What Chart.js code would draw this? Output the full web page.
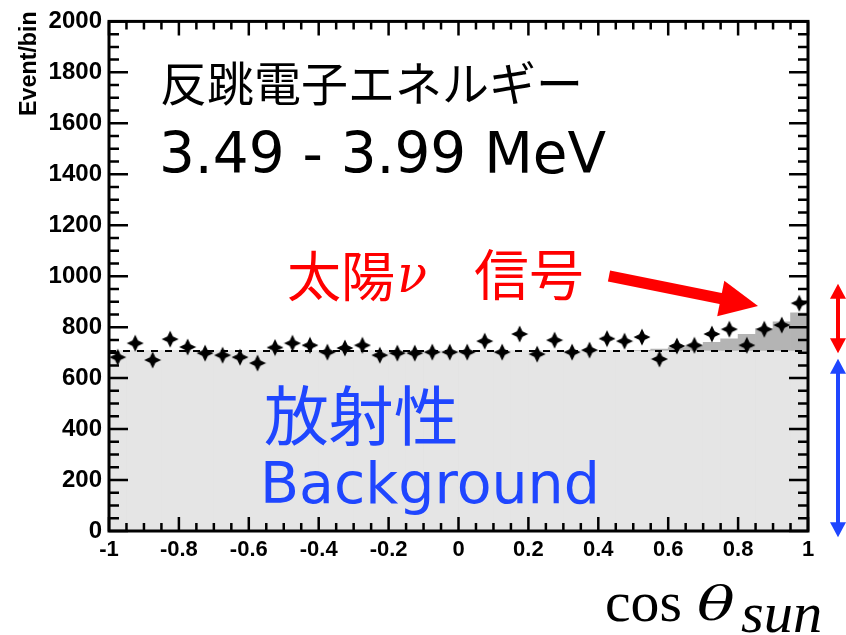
<!DOCTYPE html>
<html>
<head>
<meta charset="utf-8">
<script src="https://cdn.jsdelivr.net/npm/chart.js@4.4.1/dist/chart.umd.min.js"></script>
<style>
    html, body { margin: 0; padding: 0; background: #fff; }
    #wrap { width: 846px; height: 635px; position: relative; }
</style>
</head>
<body>
<div id="wrap"><canvas id="chartJS"></canvas></div>
<script>
// bin centres of cos(theta_sun), 40 bins of 0.05
const cosBins = [-0.975, -0.925, -0.875, -0.825, -0.775, -0.725, -0.675, -0.625, -0.575, -0.525,
    -0.475, -0.425, -0.375, -0.325, -0.275, -0.225, -0.175, -0.125, -0.075, -0.025,
    0.025, 0.075, 0.125, 0.175, 0.225, 0.275, 0.325, 0.375, 0.425, 0.475,
    0.525, 0.575, 0.625, 0.675, 0.725, 0.775, 0.825, 0.875, 0.925, 0.975];

// measured events per bin
const dataCounts = [682, 737, 671, 753, 722, 698, 690, 682, 659, 720,
    737, 729, 702, 718, 729, 690, 698, 698, 702, 702,
    702, 745, 702, 773, 694, 749, 702, 710, 755, 745,
    761, 675, 726, 729, 773, 792, 729, 792, 808, 894];

// radioactive background per bin
const bgCounts = [706, 706, 706, 706, 706, 706, 706, 706, 706, 706,
    706, 706, 706, 706, 706, 706, 706, 706, 706, 706,
    706, 706, 706, 706, 706, 706, 706, 706, 706, 706,
    706, 706, 706, 706, 706, 706, 706, 706, 706, 706];

// solar neutrino signal on top of background
const sigCounts = [0, 0, 0, 0, 0, 0, 0, 0, 0, 0,
    0, 0, 0, 0, 0, 0, 0, 0, 0, 0,
    0, 0, 0, 0, 0, 0, 0, 0, 0, 0,
    3, 8, 14, 22, 34, 48, 66, 88, 115, 150];

const xTickStep = 0.2;
const yTickStep = 200;

// 4-pointed star marker
const star = document.createElement('canvas');
star.width = 18;
star.height = 18;
(() => {
    const sc = star.getContext('2d');
    sc.fillStyle = '#000';
    sc.beginPath();
    for (let i = 0; i < 8; i++) {
        const a = i * Math.PI / 4;
        const r = i % 2 === 0 ? 8.5 : 3.9;
        sc.lineTo(9 + r * Math.cos(a), 9 + r * Math.sin(a));
    }
    sc.closePath();
    sc.fill();
})();

// draw text so its ink box starts at left/top; sized by ink width and/or height
const inkText = (ctx, str, font, left, top, width, height) => {
    ctx.font = font(100);
    let m = ctx.measureText(str);
    const size = height
        ? 100 * height / (m.actualBoundingBoxAscent + m.actualBoundingBoxDescent)
        : 100 * width / (m.actualBoundingBoxLeft + m.actualBoundingBoxRight);
    ctx.font = font(size.toFixed(2));
    m = ctx.measureText(str);
    const inkW = m.actualBoundingBoxLeft + m.actualBoundingBoxRight;
    const sx = (width && height) ? width / inkW : 1;
    ctx.save();
    ctx.translate(left, top + m.actualBoundingBoxAscent);
    ctx.scale(sx, 1);
    ctx.textAlign = 'left';
    ctx.textBaseline = 'alphabetic';
    ctx.fillText(str, m.actualBoundingBoxLeft, 0);
    ctx.restore();
};

const arrowHead = (ctx, x0, y0, x1, y1, len, half) => {
    const ang = Math.atan2(y1 - y0, x1 - x0);
    const bx = x1 - len * Math.cos(ang), by = y1 - len * Math.sin(ang);
    ctx.beginPath();
    ctx.moveTo(x1, y1);
    ctx.lineTo(bx + half * Math.sin(ang), by - half * Math.cos(ang));
    ctx.lineTo(bx - half * Math.sin(ang), by + half * Math.cos(ang));
    ctx.closePath();
    ctx.fill();
};

// ROOT style frame with inner ticks on all four sides
const framePlugin = {
    id: 'frame',
    afterDatasetsDraw(chart) {
        const {ctx, chartArea: a, scales: {x, y}} = chart;
        ctx.save();
        ctx.strokeStyle = '#000';
        ctx.lineWidth = 2.5;
        ctx.beginPath();
        for (let i = 0; i <= 40; i++) {
            const v = -1 + i * 0.05;
            const px = x.getPixelForValue(v);
            const len = i % 4 === 0 ? 14 : 8;
            ctx.moveTo(px, a.bottom); ctx.lineTo(px, a.bottom - len);
            ctx.moveTo(px, a.top); ctx.lineTo(px, a.top + len);
        }
        for (let v = 0; v <= 2000; v += 50) {
            const py = y.getPixelForValue(v);
            const len = v % yTickStep === 0 ? 19 : 10;
            ctx.moveTo(a.left, py); ctx.lineTo(a.left + len, py);
            ctx.moveTo(a.right, py); ctx.lineTo(a.right - len, py);
        }
        ctx.stroke();
        ctx.lineWidth = 3;
        ctx.strokeRect(a.left, a.top, a.right - a.left, a.bottom - a.top);
        ctx.restore();
    }
};

// annotation texts and arrows
const notesPlugin = {
    id: 'notes',
    afterDraw(chart) {
        const {ctx, scales: {y}} = chart;
        const blue = '#1f46ff', red = '#ff0000';
        ctx.save();

        // y axis title
        ctx.save();
        ctx.fillStyle = '#000';
        ctx.font = 'bold 100px "Liberation Sans"';
        let m = ctx.measureText('Event/bin');
        const s = 100 * 102 / (m.actualBoundingBoxLeft + m.actualBoundingBoxRight);
        ctx.font = 'bold ' + s.toFixed(2) + 'px "Liberation Sans"';
        m = ctx.measureText('Event/bin');
        ctx.translate(18 + m.actualBoundingBoxAscent, 115 - m.actualBoundingBoxLeft);
        ctx.rotate(-Math.PI / 2);
        ctx.textAlign = 'left';
        ctx.textBaseline = 'alphabetic';
        ctx.fillText('Event/bin', 0, 0);
        ctx.restore();

        ctx.fillStyle = '#000';
        inkText(ctx, '反跳電子エネルギー', s => s + 'px "Noto Sans CJK JP"', 162, 61, 416);
        inkText(ctx, '3.49 - 3.99 MeV', s => s + 'px "DejaVu Sans"', 163, 130, 443);

        ctx.fillStyle = red;
        inkText(ctx, '太陽', s => s + 'px "Noto Sans CJK JP"', 288, 250, 105);
        inkText(ctx, 'ν', s => 'italic ' + s + 'px "DejaVu Serif"', 400, 265, 26, 28);
        inkText(ctx, '信号', s => s + 'px "Noto Sans CJK JP"', 475, 249, 106);

        ctx.fillStyle = blue;
        inkText(ctx, '放射性', s => s + 'px "Noto Sans CJK JP"', 265, 385, 190);
        inkText(ctx, 'Background', s => s + 'px "DejaVu Sans"', 265, 460, 330);

        ctx.fillStyle = '#000';
        inkText(ctx, 'cos', s => s + 'px "Liberation Serif"', 607, 594, 73, 27);
        inkText(ctx, 'θ', s => 'italic ' + s + 'px "DejaVu Serif"', 697, 584, 37, 37);
        inkText(ctx, 'sun', s => 'italic ' + s + 'px "Liberation Serif"', 741, 605, 79, 27);

        // red arrow towards the signal excess
        ctx.strokeStyle = red;
        ctx.fillStyle = red;
        ctx.lineWidth = 11;
        ctx.beginPath();
        ctx.moveTo(609, 276);
        ctx.lineTo(728, 300);
        ctx.stroke();
        arrowHead(ctx, 609, 276, 758, 306, 38, 18);

        // vertical double arrows beside the frame
        const ax = 838;
        const drawDouble = (col, v0, v1) => {
            const yA = y.getPixelForValue(v0), yB = y.getPixelForValue(v1);
            ctx.strokeStyle = col;
            ctx.fillStyle = col;
            ctx.lineWidth = 4;
            ctx.beginPath();
            ctx.moveTo(ax, yA - 10);
            ctx.lineTo(ax, yB + 10);
            ctx.stroke();
            arrowHead(ctx, ax, yB, ax, yA, 15, 8);
            arrowHead(ctx, ax, yA, ax, yB, 15, 8);
        };
        drawDouble(red, 698, 970);
        drawDouble(blue, -25, 676);
        ctx.restore();
    }
};

const tickFont = {family: 'Liberation Sans', weight: 'bold', size: 22};

const ctx = document.getElementById('chartJS').getContext('2d');
const chart = new Chart(ctx, {
    data: {
        datasets: [{
            type: 'bar',
            label: 'signal + background',
            data: cosBins.map((c, i) => ({x: c, y: bgCounts[i] + sigCounts[i]})),
            backgroundColor: '#b4b4b4',
            barPercentage: 1,
            categoryPercentage: 1,
            grouped: false,
            order: 4
        }, {
            type: 'bar',
            label: 'background',
            data: cosBins.map((c, i) => ({x: c, y: bgCounts[i]})),
            backgroundColor: '#e5e5e5',
            barPercentage: 1,
            categoryPercentage: 1,
            grouped: false,
            order: 3
        }, {
            type: 'line',
            label: 'background line',
            data: [{x: -1, y: bgCounts[0]}]
                .concat(cosBins.map((c, i) => ({x: c, y: bgCounts[i]})))
                .concat([{x: 1, y: bgCounts[bgCounts.length - 1]}]),
            stepped: 'middle',
            borderColor: '#000',
            borderWidth: 2,
            borderDash: [7, 7],
            pointRadius: 0,
            order: 2
        }, {
            type: 'scatter',
            label: 'data',
            data: cosBins.map((c, i) => ({x: c, y: dataCounts[i]})),
            pointStyle: star,
            pointRadius: 9,
            order: 1
        }]
    },
    options: {
        responsive: true,
        maintainAspectRatio: false,
        animation: false,
        layout: {padding: {top: 20, right: 38, left: 0, bottom: 0}},
        plugins: {
            legend: {display: false},
            tooltip: {enabled: false}
        },
        scales: {
            x: {
                type: 'linear',
                min: -1,
                max: 1,
                offset: false,
                grid: {display: false, drawTicks: false, offset: false},
                border: {display: false},
                ticks: {
                    stepSize: xTickStep,
                    color: '#000',
                    font: tickFont,
                    padding: 6,
                    maxRotation: 0,
                    autoSkip: false,
                    callback: (v) => String(Math.round(v * 10) / 10)
                },
                afterFit: (scale) => { scale.height = 104; }
            },
            y: {
                min: 0,
                max: 2000,
                grid: {display: false, drawTicks: false},
                border: {display: false},
                ticks: {
                    stepSize: yTickStep,
                    color: '#000',
                    font: {family: 'Liberation Sans', weight: 'bold', size: 24},
                    padding: 7,
                    callback: (v) => String(v)
                },
                afterFit: (scale) => { scale.width = 109; }
            }
        }
    },
    plugins: [framePlugin, notesPlugin]
});
</script>
</body>
</html>
